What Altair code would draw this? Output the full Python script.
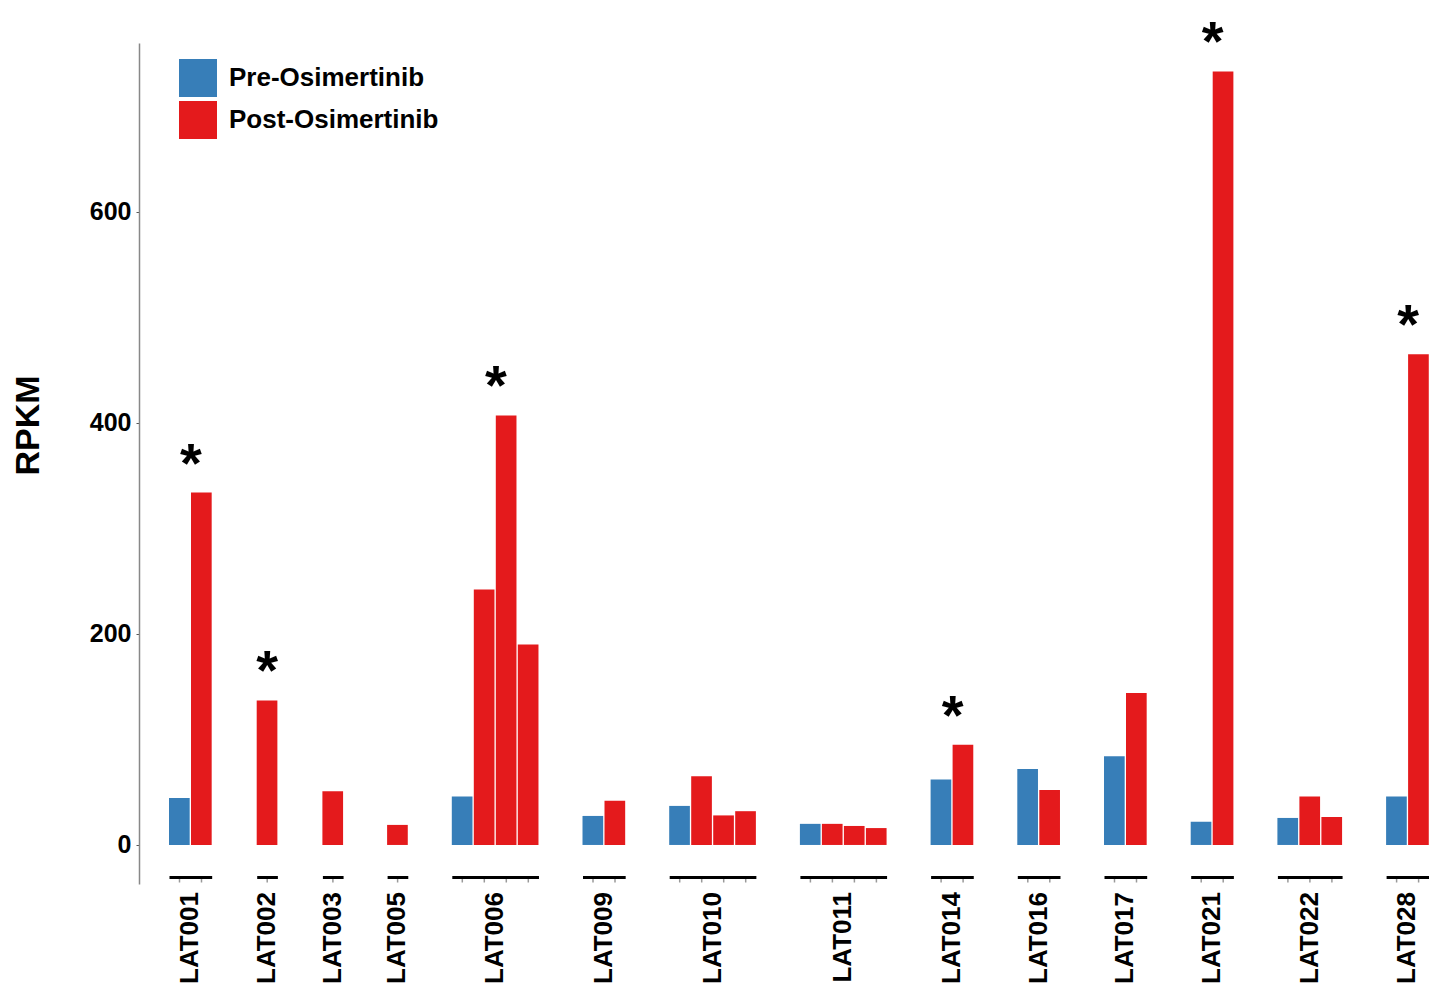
import altair as alt
import pandas as pd

patients = ["LAT001", "LAT002", "LAT003", "LAT005", "LAT006", "LAT009", "LAT010",
            "LAT011", "LAT014", "LAT016", "LAT017", "LAT021", "LAT022", "LAT028"]
pre_rpkm = [44.5, None, None, None, 46, 27.5, 37, 20, 62, 72, 84, 22, 25.6, 46]
post_rpkm = [[334], [137], [51], [19], [242, 407, 190], [42], [65, 28, 32],
             [20, 18, 16], [95], [52], [144], [733], [46, 26.5], [465]]
significant = ["LAT001", "LAT002", "LAT006", "LAT014", "LAT021", "LAT028"]
phases = ["Pre-Osimertinib", "Post-Osimertinib"]
colors = ["#377eb8", "#e41a1c"]

rows = []
for p, pre, posts in zip(patients, pre_rpkm, post_rpkm):
    vals = ([(phases[0], pre)] if pre is not None else []) + [(phases[1], v) for v in posts]
    n = len(vals)
    top = max(v for _, v in vals)
    for i, (ph, v) in enumerate(vals):
        rows.append(dict(patient=p, slot=f"s{i}", phase=ph, rpkm=v,
                         star=top if (i == n // 2 and p in significant) else None,
                         odd=(n % 2 == 1)))
df = pd.DataFrame(rows)

FONT = "Liberation Sans"

bars = alt.Chart().mark_bar().encode(
    x=alt.X("slot:N", scale=alt.Scale(paddingInner=0.06, paddingOuter=0),
            axis=alt.Axis(labels=False, title=None, domainColor="black", domainWidth=3,
                          tickColor="#999", tickSize=5, tickWidth=1.5, offset=-7)),
    y=alt.Y("rpkm:Q", scale=alt.Scale(domain=[-37, 760], nice=False),
            axis=alt.Axis(values=[0, 200, 400, 600], title="RPKM", offset=30,
                          domainColor="#888", domainWidth=1.5, tickColor="#555",
                          tickSize=3, labelFontSize=25, labelFontWeight="bold",
                          labelColor="black", labelPadding=5, titleFontSize=34,
                          titleFontWeight="bold", titleColor="black", titlePadding=44,
                          titleY=382, grid=False)),
    color=alt.Color("phase:N", scale=alt.Scale(domain=phases, range=colors),
                    legend=alt.Legend(title=None, orient="none", legendX=10, legendY=16,
                                      symbolType="square", symbolSize=1444,
                                      symbolStrokeWidth=0, labelFontSize=26,
                                      labelFontWeight="bold", labelColor="black",
                                      labelOffset=12, rowPadding=4, labelLimit=0)),
)

star_style = dict(text="*", fontSize=56, fontWeight="bold", baseline="alphabetic",
                  color="black", dy=-11)
stars_odd = alt.Chart().mark_text(**star_style).encode(
    x=alt.X("slot:N", bandPosition=0.5),
    y=alt.Y("star:Q"),
).transform_filter("datum.star != null && datum.odd")
stars_even = alt.Chart().mark_text(**star_style).encode(
    x=alt.X("slot:N", bandPosition=0),
    y=alt.Y("star:Q"),
).transform_filter("datum.star != null && !datum.odd")

chart = alt.layer(bars, stars_odd, stars_even, data=df).properties(
    width=alt.Step(22), height=841
).facet(
    column=alt.Column("patient:N", sort=patients, title=None,
                      header=alt.Header(labelOrient="bottom", labelAngle=-90,
                                        labelAlign="right", labelBaseline="middle",
                                        labelFontSize=26, labelFontWeight="bold",
                                        labelColor="black", labelPadding=8)),
    spacing=43.7
).resolve_scale(x="independent").configure(
    font=FONT, view=alt.ViewConfig(stroke=None)
).properties(padding={"left": 3, "top": 7, "right": 0, "bottom": 0})

chart.save("out.html", embed_options={"renderer": "svg", "actions": False})
